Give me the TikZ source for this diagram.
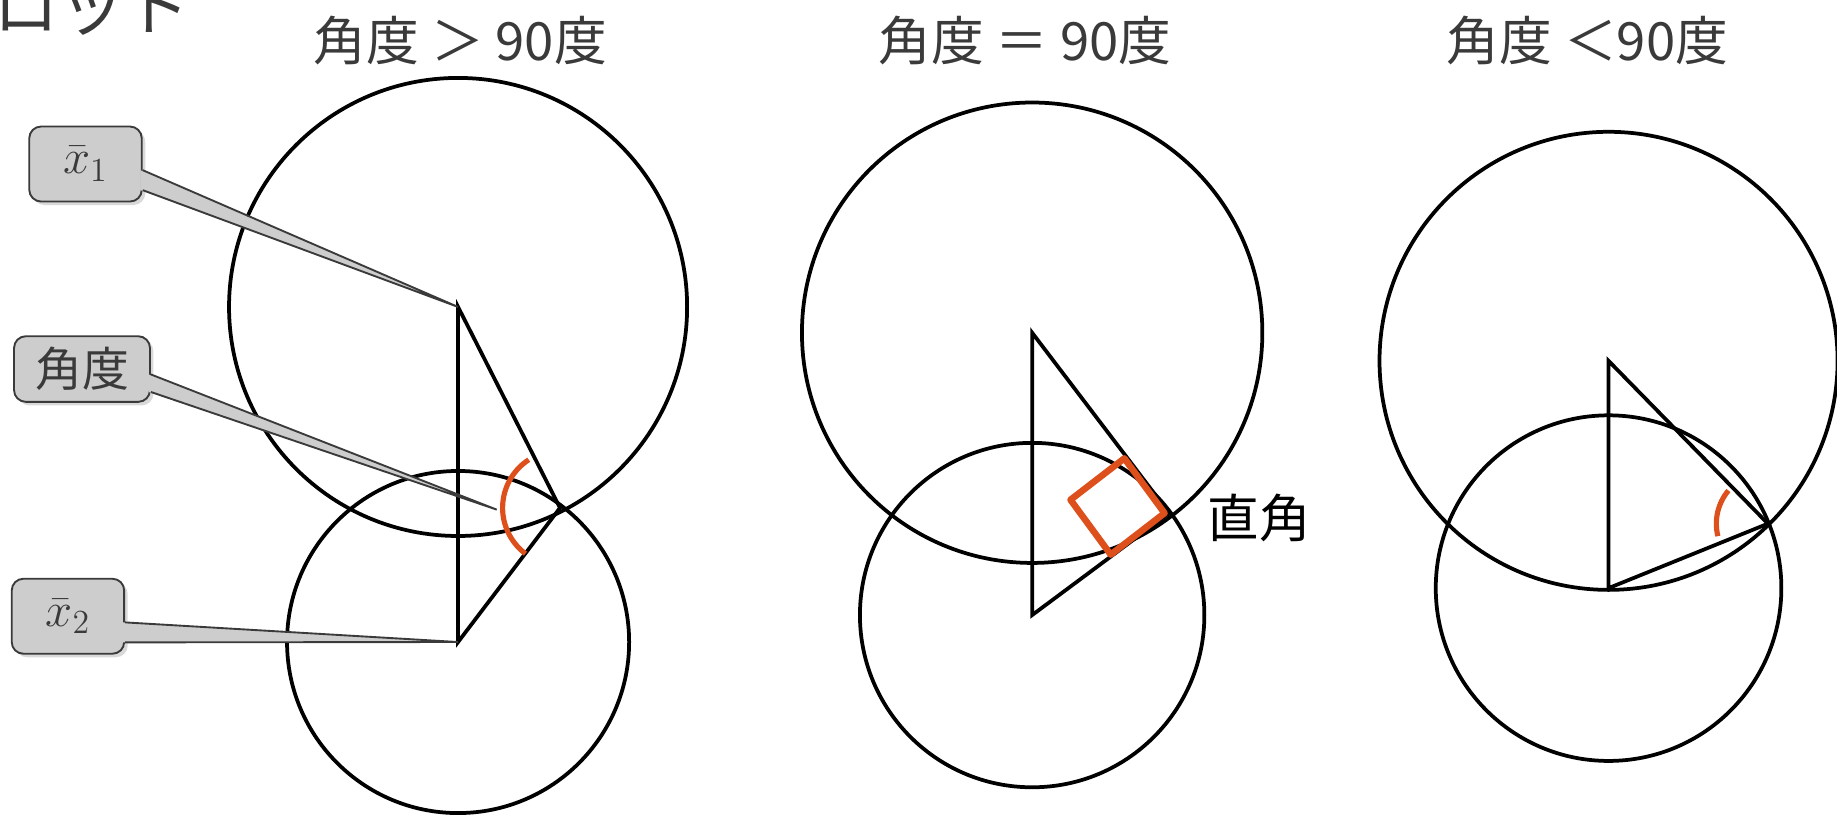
\documentclass[tikz,border=0pt]{standalone}
\usepackage{fontspec}
\setmainfont{Noto Sans CJK JP}
\usetikzlibrary{calc,shadows}
\definecolor{figink}{HTML}{3A3A3A}
\definecolor{figred}{HTML}{DD4F1B}
\definecolor{figbox}{HTML}{CDCDCD}
\tikzset{
  ring/.style={draw=black, line width=1.6pt},
  tri/.style={draw=black, line width=1.6pt},
  ttl/.style={font=\fontsize{22.5}{26}\selectfont, text=figink},
  angarc/.style={draw=figred, line width=2.2pt},
  rtbox/.style={draw=figred, line width=2.8pt, line join=round},
  callbox/.style={draw=figink, fill=figbox, rounded corners=5pt, line width=0.8pt, text=figink,
    minimum width=48pt, minimum height=32pt, font=\fontsize{20}{24}\selectfont,
    drop shadow={shadow xshift=1.5pt, shadow yshift=-1.5pt, opacity=0.3}},
  wedge/.style={fill=figbox},
  wedgeln/.style={draw=figink, line width=0.8pt},
}

\begin{document}
\begin{tikzpicture}[x=0.5pt, y=-0.5pt]
  \useasboundingbox (0,0) rectangle (1568,696);
  \clip (0,0) rectangle (1568,696);
  % heading, cut at the top edge
  \node[anchor=base west, inner sep=0pt, text=figink, font=\fontsize{28}{30}\selectfont] (head) at (-6,26) {ロット};
  % titles
  \node[ttl] (ttl1) at (393,35) {角度 ＞ 90度};
  \node[ttl] (ttl2) at (875,35) {角度 ＝ 90度};
  \node[ttl] (ttl3) at (1355,35) {角度 ＜90度};

  % panel 1: obtuse
  \coordinate (A1) at (391,262);
  \coordinate (B1) at (391,548);
  \coordinate (C1) at (478,433.5);
  \draw[ring] (A1) circle[radius=195.5];
  \draw[ring] (B1) circle[radius=146];
  \draw[tri] (A1) -- (B1) -- (C1) -- cycle;
  \draw[angarc] ($(C1)+(-123:49)$) arc[start angle=-123, end angle=-233, radius=49];

  % panel 2: right angle
  \coordinate (A2) at (881,284);
  \coordinate (B2) at (881,525);
  \coordinate (C2) at (998,438);
  \draw[ring] (A2) circle[radius=196.5];
  \draw[ring] (B2) circle[radius=147];
  \draw[tri] (A2) -- (B2) -- (C2) -- cycle;
  \coordinate (Q2) at ($(C2)+(-4,0)$);
  \coordinate (R2a) at ($(Q2)!29pt!(A2)$);
  \coordinate (R2b) at ($(Q2)!29pt!(B2)$);
  \draw[rtbox] (Q2) -- (R2a) -- ($(R2a)+(R2b)-(Q2)$) -- (R2b) -- cycle;
  \node[font=\fontsize{22}{24}\selectfont] (rtlbl) at (1075,442) {直角};

  % panel 3: acute
  \coordinate (A3) at (1373,308);
  \coordinate (B3) at (1373,502);
  \coordinate (C3) at (1509,447);
  \draw[ring] (A3) circle[radius=195.5];
  \draw[ring] (B3) circle[radius=147.5];
  \draw[tri] (A3) -- (B3) -- (C3) -- cycle;
  \draw[angarc] ($(C3)+(-140:44)$) arc[start angle=-140, end angle=-194, radius=44];

  % callouts
  \node[callbox] (lx1) at (73,140) {$\bar{x}_1$};
  \node[callbox, minimum width=58pt, minimum height=28pt] (lang) at (70,315) {角度};
  \node[callbox] (lx2) at (58,526) {$\bar{x}_2$};
  \coordinate (ptang) at (424,435);
  \foreach \bx/\tip in {lx1/A1, lang/ptang, lx2/B1} {
    \coordinate (w1) at ($(\bx.north east)!0.58!(\bx.south east)+(-2,0)$);
    \coordinate (w2) at ($(\bx.north east)!0.84!(\bx.south east)+(-2,0)$);
    \fill[wedge] (w1) -- (\tip) -- (w2) -- cycle;
    \draw[wedgeln] ($(w1)+(2,0)$) -- (\tip) -- ($(w2)+(2,0)$);
  }
\end{tikzpicture}
\end{document}
